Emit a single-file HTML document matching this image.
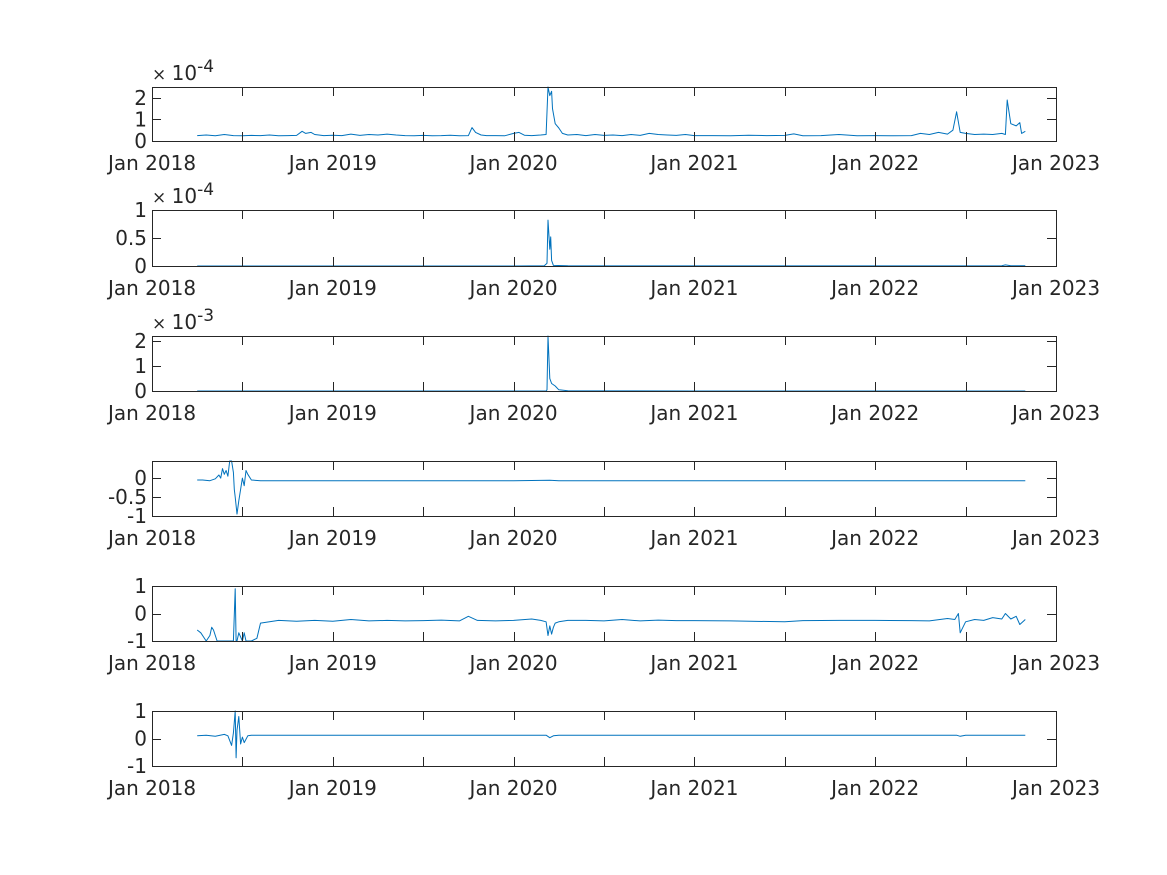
<!DOCTYPE html>
<html><head><meta charset="utf-8"><style>
html,body{margin:0;padding:0;background:#fff;}
svg{display:block;font-family:"DejaVu Sans","Liberation Sans",sans-serif;}
</style></head><body>
<svg id="fig" width="1167" height="875" viewBox="0 0 1167 875" xmlns="http://www.w3.org/2000/svg"></svg>
<script>
// shared x-axis data (years since Jan 2018)
const xTickYears = [0,0.5,1,1.5,2,2.5,3,3.5,4,4.5,5];
const xTickLabels = ["Jan 2018","","Jan 2019","","Jan 2020","","Jan 2021","","Jan 2022","","Jan 2023"];

// series 1 (x1e-4)
const s1t = [0.25,0.3,0.35,0.4,0.45,0.5,0.55,0.6,0.65,0.7,0.75,0.8,0.83,0.85,0.88,0.9,0.95,1.0,1.05,1.1,1.15,1.2,1.25,1.3,1.35,1.4,1.45,1.5,1.55,1.6,1.65,1.7,1.75,1.77,1.79,1.82,1.85,1.9,1.95,2.0,2.03,2.06,2.1,2.15,2.18,2.19,2.2,2.21,2.215,2.23,2.25,2.27,2.3,2.35,2.4,2.45,2.5,2.55,2.6,2.65,2.7,2.75,2.8,2.85,2.9,2.95,3.0,3.1,3.2,3.3,3.4,3.5,3.55,3.6,3.7,3.8,3.9,4.0,4.1,4.2,4.25,4.3,4.35,4.4,4.43,4.45,4.47,4.5,4.55,4.6,4.65,4.7,4.72,4.73,4.75,4.78,4.8,4.81,4.83];
const s1v = [0.25,0.28,0.24,0.3,0.25,0.24,0.26,0.25,0.28,0.24,0.25,0.26,0.45,0.35,0.4,0.3,0.25,0.27,0.25,0.32,0.26,0.3,0.28,0.32,0.28,0.25,0.24,0.26,0.24,0.25,0.27,0.24,0.25,0.62,0.4,0.28,0.25,0.25,0.24,0.35,0.4,0.27,0.25,0.28,0.3,2.5,2.1,2.3,1.5,0.8,0.6,0.35,0.28,0.3,0.25,0.3,0.26,0.28,0.25,0.3,0.26,0.35,0.3,0.28,0.26,0.3,0.25,0.25,0.24,0.27,0.25,0.26,0.33,0.24,0.25,0.3,0.24,0.25,0.24,0.25,0.35,0.3,0.4,0.32,0.5,1.35,0.4,0.35,0.3,0.32,0.3,0.35,0.3,1.9,0.8,0.7,0.85,0.35,0.45];
// series 2 (x1e-4)
const s2t = [0.25,1.0,2.0,2.17,2.185,2.19,2.2,2.205,2.21,2.22,2.3,3.0,4.0,4.7,4.72,4.75,4.83];
const s2v = [0,0,0,0.005,0.05,0.82,0.3,0.52,0.1,0.01,0.003,0.002,0.002,0.005,0.02,0.004,0.003];
// series 3 (x1e-3)
const s3t = [0.25,1.0,2.0,2.18,2.185,2.19,2.2,2.21,2.23,2.25,2.3,3.0,4.0,4.83];
const s3v = [0,0,0,0,0.05,2.25,0.5,0.3,0.2,0.05,0.01,0,0,0];
// series 4
const s4t = [0.25,0.28,0.32,0.35,0.37,0.38,0.39,0.4,0.41,0.42,0.43,0.44,0.45,0.455,0.46,0.47,0.48,0.49,0.5,0.51,0.52,0.53,0.55,0.6,1.0,2.0,2.2,2.25,3.0,4.0,4.83];
const s4v = [-0.05,-0.05,-0.07,-0.02,0.08,0.0,0.25,0.1,0.2,0.05,0.45,0.45,0.15,-0.3,-0.5,-0.95,-0.6,-0.3,0.0,-0.2,0.2,0.1,-0.05,-0.07,-0.07,-0.07,-0.06,-0.07,-0.07,-0.07,-0.07];
// series 5
const s5t = [0.25,0.27,0.3,0.32,0.33,0.34,0.36,0.4,0.45,0.46,0.465,0.47,0.48,0.5,0.51,0.52,0.55,0.58,0.6,0.7,0.8,0.9,1.0,1.1,1.2,1.3,1.4,1.5,1.6,1.7,1.75,1.8,1.9,2.0,2.1,2.15,2.18,2.19,2.2,2.21,2.22,2.23,2.25,2.3,2.4,2.5,2.6,2.7,2.8,2.9,3.0,3.2,3.5,3.6,3.8,4.0,4.2,4.3,4.4,4.44,4.46,4.47,4.5,4.55,4.6,4.65,4.7,4.72,4.75,4.78,4.8,4.83];
const s5v = [-0.6,-0.7,-1.0,-0.8,-0.5,-0.6,-1.0,-1.0,-1.0,0.9,-1.0,-1.0,-0.7,-1.0,-0.7,-1.0,-1.0,-0.9,-0.35,-0.25,-0.28,-0.25,-0.28,-0.22,-0.27,-0.25,-0.27,-0.26,-0.24,-0.27,-0.1,-0.25,-0.27,-0.25,-0.2,-0.25,-0.3,-0.8,-0.45,-0.75,-0.5,-0.35,-0.3,-0.25,-0.25,-0.27,-0.22,-0.27,-0.24,-0.26,-0.26,-0.27,-0.3,-0.26,-0.25,-0.25,-0.26,-0.27,-0.18,-0.22,0.0,-0.7,-0.3,-0.22,-0.25,-0.15,-0.2,0.0,-0.2,-0.1,-0.4,-0.22];
// series 6
const s6t = [0.25,0.3,0.35,0.4,0.42,0.44,0.45,0.46,0.465,0.47,0.48,0.49,0.5,0.51,0.53,0.55,0.6,1.0,2.0,2.18,2.2,2.22,2.25,3.0,4.0,4.45,4.47,4.5,4.83];
const s6v = [0.1,0.12,0.08,0.15,0.1,-0.25,0.2,1.0,-0.7,0.3,0.8,-0.2,0.05,-0.15,0.1,0.12,0.12,0.12,0.12,0.12,0.03,0.1,0.12,0.12,0.12,0.12,0.08,0.12,0.12];

const panels = [
  {top:87,bot:141,ymin:0,ymax:2.5,ticks:[0,1,2],labels:["0","1","2"],exp:"-4",t:s1t,v:s1v},
  {top:210,bot:266,ymin:0,ymax:1,ticks:[0,0.5,1],labels:["0","0.5","1"],exp:"-4",t:s2t,v:s2v},
  {top:336,bot:391,ymin:0,ymax:2.2,ticks:[0,1,2],labels:["0","1","2"],exp:"-3",t:s3t,v:s3v},
  {top:461,bot:516,ymin:-1,ymax:0.45,ticks:[-1,-0.5,0],labels:["-1","-0.5","0"],exp:null,t:s4t,v:s4v},
  {top:586,bot:641,ymin:-1,ymax:1,ticks:[-1,0,1],labels:["-1","0","1"],exp:null,t:s5t,v:s5v},
  {top:711,bot:766,ymin:-1,ymax:1,ticks:[-1,0,1],labels:["-1","0","1"],exp:null,t:s6t,v:s6v}
];
const L=152,R=1056;
const NS="http://www.w3.org/2000/svg";
const svg=document.getElementById('fig');
function el(tag,attrs,parent){const e=document.createElementNS(NS,tag);for(const k in attrs)e.setAttribute(k,attrs[k]);(parent||svg).appendChild(e);return e;}
const xs=y=>L+(y/5)*(R-L);

panels.forEach((p,i)=>{
  const g=el('g',{});
  
  
  const ys=v=>p.bot-(v-p.ymin)/(p.ymax-p.ymin)*(p.bot-p.top);
  let d='';
  p.t.forEach((t,k)=>{d+=(k?'L':'M')+xs(t).toFixed(1)+','+ys(Math.max(p.ymin,Math.min(p.ymax,p.v[k]))).toFixed(1);});
  const path=el('path',{d:d,fill:'none',stroke:'#0072BD','stroke-width':1,'stroke-linejoin':'round'},g);
  
  
  const box=el('rect',{x:L+0.5,y:p.top+0.5,width:R-L,height:p.bot-p.top,fill:'none',stroke:'#262626','stroke-width':1},g);
  
  
  xTickYears.forEach((yr,k)=>{
    const x=Math.round(xs(yr))+0.5;
    el('line',{x1:x,x2:x,y1:p.bot,y2:p.bot-9,stroke:'#262626'},g);
    el('line',{x1:x,x2:x,y1:p.top,y2:p.top+9,stroke:'#262626'},g);
    if(xTickLabels[k]){
      const tx=el('text',{x:xs(yr),y:p.bot+29,'text-anchor':'middle','font-size':20,fill:'#262626'},g);
      tx.textContent=xTickLabels[k];
      
      
    }
  });
  p.ticks.forEach((v,k)=>{
    const y=Math.round(ys(v))+0.5;
    el('line',{x1:L,x2:L+9,y1:y,y2:y,stroke:'#262626'},g);
    el('line',{x1:R,x2:R-9,y1:y,y2:y,stroke:'#262626'},g);
    const tx=el('text',{x:L-5,y:ys(v)+7,'text-anchor':'end','font-size':20,fill:'#262626'},g);
    tx.textContent=p.labels[k];
    
    
  });
  if(p.exp){
    const tx=el('text',{x:152,y:p.top-7,'font-size':20,fill:'#262626'},g);
    
    
    const a=el('tspan',{'font-size':17},tx);a.textContent='× ';
    const b=el('tspan',{},tx);b.textContent='10';
    const c=el('tspan',{dy:-8,'font-size':17},tx);c.textContent=p.exp;
  }
});
</script>
</body></html>
